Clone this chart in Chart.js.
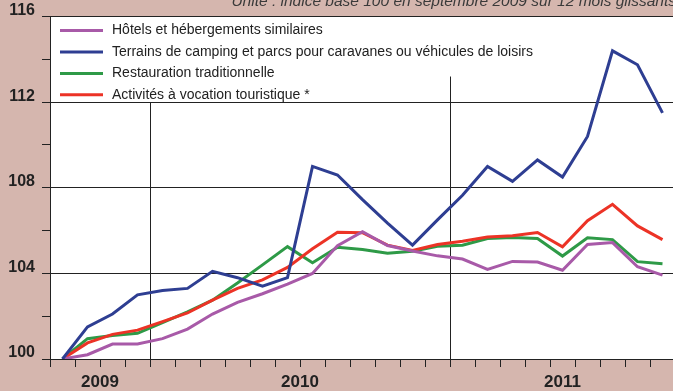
<!DOCTYPE html>
<html>
<head>
<meta charset="utf-8">
<script src="https://cdn.jsdelivr.net/npm/chart.js@4.4.0/dist/chart.umd.min.js"></script>
<style>
  html, body { margin: 0; padding: 0; overflow: hidden; background: #d5b6ae; }
  #wrap { width: 680px; height: 391px; }
</style>
</head>
<body>
<div id="wrap"><canvas id="c" width="680" height="391"></canvas></div>
<script>
// Monthly points, September 2009 to September 2011
const months = [
  '2009-09', '2009-10', '2009-11', '2009-12',
  '2010-01', '2010-02', '2010-03', '2010-04', '2010-05', '2010-06',
  '2010-07', '2010-08', '2010-09', '2010-10', '2010-11', '2010-12',
  '2011-01', '2011-02', '2011-03', '2011-04', '2011-05', '2011-06',
  '2011-07', '2011-08', '2011-09'
];

const hotels = [100, 100.2, 100.7, 100.7, 100.95, 101.4, 102.1, 102.65, 103.05, 103.5,
  104.0, 105.3, 105.95, 105.3, 105.05, 104.82, 104.67, 104.19, 104.56, 104.53,
  104.15, 105.35, 105.44, 104.31, 103.92];

const camping = [100, 101.5, 102.1, 103.0, 103.2, 103.3, 104.1, 103.8, 103.4, 103.8,
  109.0, 108.6, 107.45, 106.35, 105.32, 106.5, 107.65, 109.0, 108.3, 109.3,
  108.5, 110.4, 114.4, 113.75, 111.5];

const restauration = [100, 100.95, 101.1, 101.2, 101.7, 102.2, 102.75, 103.55, 104.4, 105.25,
  104.5, 105.22, 105.12, 104.94, 105.04, 105.27, 105.32, 105.63, 105.68, 105.63,
  104.81, 105.66, 105.58, 104.55, 104.45];

const activites = [100, 100.75, 101.15, 101.35, 101.75, 102.15, 102.75, 103.3, 103.7, 104.28,
  105.15, 105.92, 105.9, 105.32, 105.07, 105.35, 105.5, 105.7, 105.76, 105.91,
  105.24, 106.46, 107.23, 106.22, 105.58];

const seriesNames = [
  'Hôtels et hébergements similaires',
  'Terrains de camping et parcs pour caravanes ou véhicules de loisirs',
  'Restauration traditionnelle',
  'Activités à vocation touristique *'
];

const yTickValues = [100, 102, 104, 106, 108, 110, 112, 114, 116];
const unitNote = 'Unité : indice base 100 en septembre 2009 sur 12 mois glissants';

const FONT = '"Liberation Sans", Arial, Helvetica, sans-serif';
const INK = '#222222';
const colours = ['#a85aa8', '#2e3e92', '#2e9a47', '#ec3326'];

// Year groups: name, centre index and the boundary before each new year
const yearNames = [];
const yearCentres = [];
const yearBounds = [];
(function () {
  let start = 0;
  for (let i = 1; i <= months.length; i++) {
    const prev = months[i - 1].slice(0, 4);
    if (i === months.length || months[i].slice(0, 4) !== prev) {
      yearNames.push(prev);
      yearCentres.push((start + i - 1) / 2);
      if (i < months.length) yearBounds.push(i - 0.5);
      start = i;
    }
  }
})();

// Pink page, white plotting area
const backdrop = {
  id: 'backdrop',
  beforeDraw(chart) {
    const { ctx, chartArea: a } = chart;
    ctx.save();
    ctx.fillStyle = '#d5b6ae';
    ctx.fillRect(0, 0, chart.width, chart.height);
    ctx.fillStyle = '#ffffff';
    ctx.fillRect(a.left, a.top, a.right - a.left, a.bottom - a.top);
    ctx.restore();
  }
};

// Vertical separators between years, stopping below the legend block
const yearSeparators = {
  id: 'yearSeparators',
  beforeDatasetsDraw(chart) {
    const { ctx, chartArea: a, scales } = chart;
    const tops = [112, 113.2];
    ctx.save();
    ctx.strokeStyle = INK;
    ctx.lineWidth = 1;
    yearBounds.forEach((b, i) => {
      const x = Math.round(scales.x.getPixelForValue(b)) + 0.5;
      const yTop = scales.y.getPixelForValue(tops[Math.min(i, tops.length - 1)]);
      ctx.beginPath();
      ctx.moveTo(x, yTop);
      ctx.lineTo(x, a.bottom);
      ctx.stroke();
    });
    ctx.restore();
  }
};

// Legend block in the upper left of the plot, plus the unit note above it
const legendBlock = {
  id: 'legendBlock',
  afterDraw(chart) {
    const { ctx, chartArea: a } = chart;
    const order = [0, 1, 2, 3];
    ctx.save();
    ctx.font = '14px ' + FONT;
    ctx.textBaseline = 'middle';
    ctx.textAlign = 'left';
    order.forEach((idx, row) => {
      const ds = chart.data.datasets[idx];
      const y = a.top + 14 + row * 21.4;
      ctx.strokeStyle = ds.borderColor;
      ctx.lineWidth = 3;
      ctx.beginPath();
      ctx.moveTo(a.left + 10, y);
      ctx.lineTo(a.left + 53, y);
      ctx.stroke();
      ctx.fillStyle = INK;
      ctx.fillText(ds.label, a.left + 62, y);
    });
    ctx.font = 'italic 15.5px ' + FONT;
    ctx.fillStyle = '#3a3a3a';
    ctx.textAlign = 'right';
    ctx.textBaseline = 'alphabetic';
    ctx.fillText(unitNote, a.right + 1, 6);
    ctx.restore();
  }
};

const series = [hotels, camping, restauration, activites];
const drawOrder = [1, 0, 3, 2];

new Chart(document.getElementById('c'), {
  type: 'line',
  data: {
    labels: months,
    datasets: series.map((values, i) => ({
      label: seriesNames[i],
      data: values,
      borderColor: colours[i],
      backgroundColor: colours[i],
      borderWidth: 3,
      pointRadius: 0,
      tension: 0,
      fill: false,
      order: drawOrder[i]
    }))
  },
  options: {
    responsive: false,
    animation: false,
    devicePixelRatio: 1,
    layout: { padding: { top: 13, right: 5, left: 0, bottom: 0 } },
    plugins: { legend: { display: false }, tooltip: { enabled: false } },
    scales: {
      x: {
        type: 'category',
        offset: true,
        weight: 0,
        grid: { offset: true, drawOnChartArea: false, drawTicks: true, tickLength: 8, color: INK, tickColor: INK },
        border: { color: INK, width: 1 },
        ticks: { display: false },
        afterFit(s) { s.height = 8; }
      },
      years: {
        type: 'linear',
        position: 'bottom',
        weight: 1,
        min: -0.5,
        max: months.length - 0.5,
        grid: { display: false, drawTicks: false },
        border: { display: false },
        afterBuildTicks(s) { s.ticks = yearCentres.map(v => ({ value: v })); },
        ticks: {
          autoSkip: false,
          maxRotation: 0,
          padding: 5,
          color: INK,
          font: { family: FONT, size: 17, weight: 'bold' },
          callback: (v, i) => yearNames[i]
        },
        afterFit(s) { s.height = 24; }
      },
      y: {
        min: 100,
        max: 116,
        afterBuildTicks(s) { s.ticks = yTickValues.map(v => ({ value: v })); },
        grid: {
          color: (c) => (c.tick && c.tick.value > 100 && c.tick.value % 4 === 0) ? INK : 'rgba(0,0,0,0)',
          tickColor: INK,
          tickLength: 8,
          drawOnChartArea: true
        },
        border: { color: INK, width: 1 },
        ticks: {
          padding: 7,
          labelOffset: -6,
          color: INK,
          font: { family: FONT, size: 16, weight: 'bold' },
          callback: (v) => (v % 4 === 0 ? String(v) : '')
        },
        afterFit(s) { s.width = 50; }
      }
    }
  },
  plugins: [backdrop, yearSeparators, legendBlock]
});
</script>
</body>
</html>
